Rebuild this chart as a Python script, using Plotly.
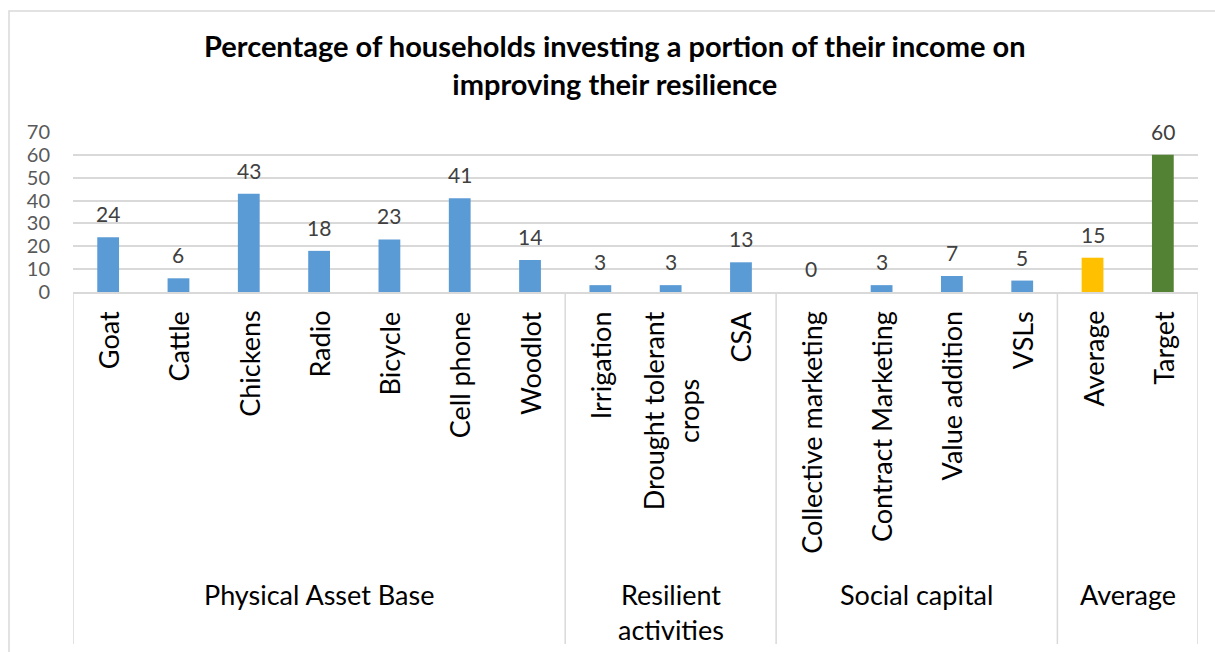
import plotly.graph_objects as go

# Investment categories, their groups and the share of households (%)
categories = ["Goat", "Cattle", "Chickens", "Radio", "Bicycle", "Cell phone", "Woodlot",
              "Irrigation", "Drought tolerant<br>crops", "CSA",
              "Collective marketing", "Contract Marketing", "Value addition", "VSLs",
              "Average", "Target"]
values = [24, 6, 43, 18, 23, 41, 14, 3, 3, 13, 0, 3, 7, 5, 15, 60]
groups = ["Physical Asset Base", "Resilient<br>activities", "Social capital", "Average"]
group_sizes = [7, 3, 4, 2]
y_ticks = [0, 10, 20, 30, 40, 50, 60, 70]

BLUE, GOLD, GREEN = "#5B9BD5", "#FFC000", "#548235"
bar_colors = [BLUE] * 14 + [GOLD, GREEN]
GRID = "#D9D9D9"
FONT = "Lato"

W, H = 1215, 652
L, R, T, B = 73, 17, 132, 360
plot_h = H - T - B

fig = go.Figure(go.Bar(
    x=list(range(len(categories))),
    y=values,
    marker=dict(color=bar_colors, line=dict(width=0)),
    width=0.31,
    hoverinfo="skip",
))

annotations = []
# value labels above each bar
for i, v in enumerate(values):
    annotations.append(dict(
        x=i, y=v, xref="x", yref="y", text=str(v), showarrow=False,
        yanchor="bottom", yshift=9,
        font=dict(family=FONT, size=21, color="#404040")))
# rotated category labels under the axis
for i, c in enumerate(categories):
    annotations.append(dict(
        x=i, y=0, xref="x", yref="paper", text=c, showarrow=False,
        textangle=-90, yanchor="top", xanchor="center", yshift=-17, align="center",
        font=dict(family=FONT, size=27, color="#000000")))
# group labels and separators
shapes = []
start = 0
bounds = [-0.5]
for g, n in zip(groups, group_sizes):
    centre = start + (n - 1) / 2
    annotations.append(dict(
        x=centre, y=0, xref="x", yref="paper", text=g, showarrow=False,
        yanchor="top", xanchor="center", yshift=-(576 - (H - B)), align="center",
        font=dict(family=FONT, size=27, color="#000000")))
    start += n
    bounds.append(start - 0.5)
for bx in bounds:
    shapes.append(dict(type="line", xref="x", yref="paper", x0=bx, x1=bx,
                       y0=0, y1=-(H - 8 - (H - B)) / plot_h,
                       line=dict(color=GRID, width=1.5)))

# chart frame
shapes.append(dict(type="rect", xref="paper", yref="paper",
                   x0=(9 - L) / (W - L - R), x1=(W + 5 - L) / (W - L - R),
                   y0=-(H + 10 - (H - B)) / plot_h, y1=((H - B) - 11) / plot_h,
                   line=dict(color=GRID, width=1.5), fillcolor="rgba(0,0,0,0)",
                   layer="below"))

fig.update_layout(
    width=W, height=H,
    margin=dict(l=L, r=R, t=T, b=B, pad=0),
    paper_bgcolor="white", plot_bgcolor="white",
    showlegend=False,
    title=dict(
        text="Percentage of households investing a portion of their income on<br>improving their resilience",
        x=0.506, xanchor="center", xref="container",
        y=1 - 57 / H, yanchor="top", yref="container",
        font=dict(family=FONT, size=29, color="#000000", weight="bold")),
    xaxis=dict(type="linear", range=[-0.5, len(categories) - 0.5],
               showticklabels=False, showgrid=False, zeroline=False,
               showline=True, linecolor=GRID, linewidth=1.5, ticks=""),
    yaxis=dict(range=[0, 70], tickvals=y_ticks, showgrid=True, gridcolor=GRID,
               gridwidth=1.5, zeroline=False, showline=False, ticks="",
               ticklabelstandoff=22,
               tickfont=dict(family=FONT, size=20, color="#595959")),
    annotations=annotations,
    shapes=shapes,
    bargap=0.69,
)

fig.write_html("out.html")
